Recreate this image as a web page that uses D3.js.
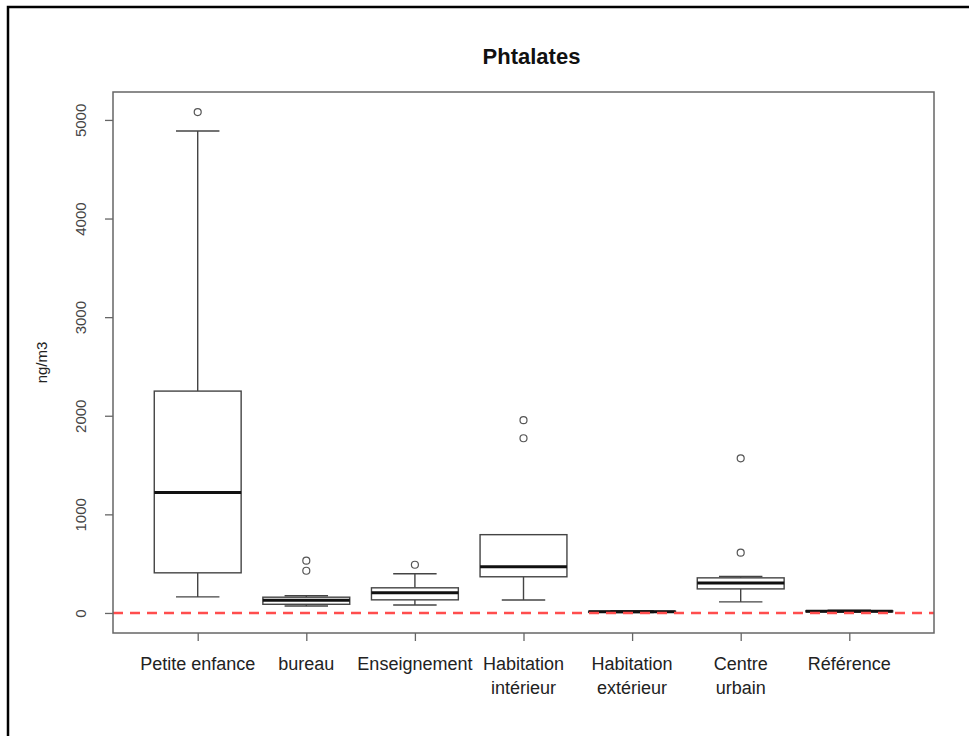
<!DOCTYPE html>
<html>
<head>
<meta charset="utf-8">
<script src="https://cdn.jsdelivr.net/npm/d3@7"></script>
<style>
  body { margin: 0; background: #fff; }
  text { font-family: Arial, "Liberation Sans", sans-serif; }
</style>
</head>
<body>
<div id="chart"></div>
<script>
// data
var categories = [["Petite enfance"], ["bureau"], ["Enseignement"], ["Habitation", "intérieur"],
                  ["Habitation", "extérieur"], ["Centre", "urbain"], ["Référence"]];
var whiskerLow  = [163, 70, 81, 132, 3, 112, 8];
var q1          = [407, 88, 133, 367, 7, 244, 12];
var medians     = [1222, 130, 204, 468, 12, 305, 17];
var q3          = [2250, 160, 255, 794, 17, 356, 22];
var whiskerHigh = [4888, 175, 397, 794, 24, 370, 27];
var outliers    = [[5080], [530, 428], [489], [1955, 1772], [], [1568, 611], []];
var yTicks = [0, 1000, 2000, 3000, 4000, 5000];

(function () {
var width = 969, height = 736,
    pLeft = 113, pRight = 934, pTop = 92, pBottom = 633;

var svg = d3.select("#chart").append("svg")
    .attr("width", width)
    .attr("height", height);

// outer frame of the screenshot
svg.append("path")
    .attr("d", "M8,736 V7 H969")
    .attr("fill", "none")
    .attr("stroke", "#000")
    .attr("stroke-width", 2.5);

// R style: x from 0.5 to n+0.5 with 4% padding
var n = categories.length;
var x = d3.scaleLinear()
    .domain([0.5 - 0.04 * n, n + 0.5 + 0.04 * n])
    .range([pLeft, pRight]);

var ymin = 0, ymax = 5080, pad = 0.04 * (ymax - ymin);
var y = d3.scaleLinear()
    .domain([ymin - pad, ymax + pad])
    .range([pBottom, pTop]);

// boxwex 0.8, staples half as wide
var boxW = x(1.8) - x(1), capW = boxW / 2;
var lineCol = "#444";

var g = svg.selectAll(".box")
    .data(categories)
  .enter().append("g")
    .attr("class", "box")
    .attr("transform", (d, i) => `translate(${x(i + 1)},0)`);

// whiskers
g.append("line")
    .attr("y1", (d, i) => y(whiskerLow[i]))
    .attr("y2", (d, i) => y(q1[i]))
    .attr("stroke", lineCol).attr("stroke-width", 1.4);
g.append("line")
    .attr("y1", (d, i) => y(q3[i]))
    .attr("y2", (d, i) => y(whiskerHigh[i]))
    .attr("stroke", lineCol).attr("stroke-width", 1.4);
g.append("line")
    .attr("x1", -capW / 2).attr("x2", capW / 2)
    .attr("y1", (d, i) => y(whiskerLow[i])).attr("y2", (d, i) => y(whiskerLow[i]))
    .attr("stroke", lineCol).attr("stroke-width", 1.4);
g.append("line")
    .attr("x1", -capW / 2).attr("x2", capW / 2)
    .attr("y1", (d, i) => y(whiskerHigh[i])).attr("y2", (d, i) => y(whiskerHigh[i]))
    .attr("stroke", lineCol).attr("stroke-width", 1.4);

// box
g.append("rect")
    .attr("x", -boxW / 2)
    .attr("width", boxW)
    .attr("y", (d, i) => y(q3[i]))
    .attr("height", (d, i) => y(q1[i]) - y(q3[i]))
    .attr("fill", "#fff")
    .attr("stroke", lineCol).attr("stroke-width", 1.4);

// median
g.append("line")
    .attr("x1", -boxW / 2).attr("x2", boxW / 2)
    .attr("y1", (d, i) => y(medians[i])).attr("y2", (d, i) => y(medians[i]))
    .attr("stroke", "#111").attr("stroke-width", 3);

// outliers
g.selectAll("circle")
    .data((d, i) => outliers[i])
  .enter().append("circle")
    .attr("r", 3.5)
    .attr("cy", d => y(d))
    .attr("fill", "none")
    .attr("stroke", "#555").attr("stroke-width", 1.2);

// reference line at 0
svg.append("line")
    .attr("x1", pLeft).attr("x2", pRight)
    .attr("y1", y(0)).attr("y2", y(0))
    .attr("stroke", "#ff4d4d")
    .attr("stroke-width", 2.5)
    .attr("stroke-dasharray", "10,7");

// plot frame
svg.append("rect")
    .attr("x", pLeft).attr("y", pTop)
    .attr("width", pRight - pLeft).attr("height", pBottom - pTop)
    .attr("fill", "none")
    .attr("stroke", "#666").attr("stroke-width", 1.5);

// y axis
var yAxis = svg.append("g")
    .attr("transform", `translate(${pLeft},0)`)
    .call(d3.axisLeft(y).tickValues(yTicks).tickSize(8).tickFormat(d3.format("d")));
yAxis.select(".domain").remove();
yAxis.selectAll(".tick line").attr("stroke", "#666").attr("stroke-width", 1.3);
yAxis.selectAll(".tick text")
    .attr("transform", "rotate(-90)")
    .attr("x", 0).attr("y", -32)
    .attr("dy", "0.35em")
    .attr("text-anchor", "middle")
    .attr("fill", "#444")
    .style("font-size", "15px");

// x axis
var xAxis = svg.append("g")
    .attr("transform", `translate(0,${pBottom})`)
    .call(d3.axisBottom(x).tickValues(d3.range(1, n + 1)).tickSize(8).tickFormat(""));
xAxis.select(".domain").remove();
xAxis.selectAll(".tick line").attr("stroke", "#666").attr("stroke-width", 1.3);

var lab = svg.selectAll(".xlab")
    .data(categories)
  .enter().append("text")
    .attr("class", "xlab")
    .attr("x", (d, i) => x(i + 1))
    .attr("y", 670)
    .attr("text-anchor", "middle")
    .attr("fill", "#222")
    .style("font-size", "18px");
lab.selectAll("tspan")
    .data(d => d)
  .enter().append("tspan")
    .attr("x", function () { return this.parentNode.getAttribute("x"); })
    .attr("dy", (d, j) => j === 0 ? 0 : 24)
    .text(d => d);

// title
svg.append("text")
    .attr("x", (pLeft + pRight) / 2 + 8)
    .attr("y", 64)
    .attr("text-anchor", "middle")
    .style("font-size", "22px")
    .style("font-weight", "bold")
    .attr("fill", "#111")
    .text("Phtalates");

// y label
svg.append("text")
    .attr("transform", `translate(47,${(pTop + pBottom) / 2}) rotate(-90)`)
    .attr("text-anchor", "middle")
    .style("font-size", "15px")
    .attr("fill", "#222")
    .text("ng/m3");
})();
</script>
</body>
</html>
